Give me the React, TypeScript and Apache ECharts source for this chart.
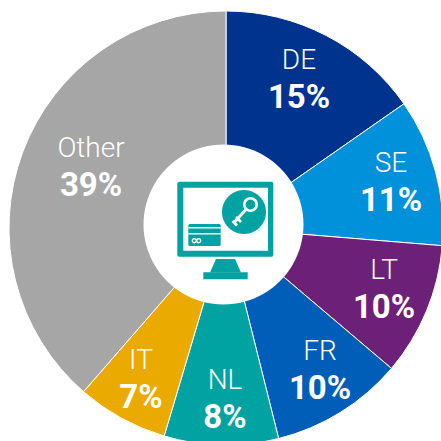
import React, { useEffect, useRef } from "react";
import * as echarts from "echarts";

const categories = ["DE", "SE", "LT", "FR", "NL", "IT", "Other"];
const shares = [15.3, 11.0, 9.9, 9.9, 8.5, 6.8, 38.6];
const shareLabels = ["15%", "11%", "10%", "10%", "8%", "7%", "39%"];
const colors = ["#00338D", "#0091DA", "#6D2077", "#005EB8", "#00A3A1", "#EAAA00", "#A6A6A6"];
const labelCenters = [
  [299, 78], [391, 181], [384, 288], [320, 369], [225, 398], [141, 378], [91, 166],
];

const TEAL = "#00A3A1";

const iconElements: any[] = [
  { type: "circle", z: 10, shape: { cx: 223.5, cy: 224.5, r: 80 }, style: { fill: "#fff" } },
  { type: "rect", z: 11, shape: { x: 177.3, y: 181.7, width: 96, height: 75, r: 2 }, style: { fill: TEAL } },
  { type: "rect", z: 12, shape: { x: 183.3, y: 187.7, width: 84.7, height: 63 }, style: { fill: "#fff" } },
  { type: "polygon", z: 11, shape: { points: [[216, 259], [235, 259], [241, 272.5], [210, 272.5]] }, style: { fill: TEAL } },
  { type: "rect", z: 11, shape: { x: 203.3, y: 272.3, width: 44.4, height: 7 }, style: { fill: TEAL } },
  { type: "circle", z: 13, shape: { cx: 244, cy: 212, r: 22 }, style: { fill: TEAL } },
  { type: "circle", z: 14, shape: { cx: 250.5, cy: 204.5, r: 6.2 }, style: { fill: "none", stroke: "#fff", lineWidth: 2.6 } },
  { type: "line", z: 14, shape: { x1: 246, y1: 209.5, x2: 234, y2: 222.5 }, style: { stroke: "#fff", lineWidth: 3 } },
  { type: "line", z: 14, shape: { x1: 236, y1: 217, x2: 241, y2: 222 }, style: { stroke: "#fff", lineWidth: 2.6 } },
  { type: "line", z: 14, shape: { x1: 232.5, y1: 221, x2: 237, y2: 225.5 }, style: { stroke: "#fff", lineWidth: 2.6 } },
  { type: "rect", z: 13, shape: { x: 188.3, y: 224, width: 32.4, height: 22, r: 1.5 }, style: { fill: TEAL } },
  { type: "rect", z: 14, shape: { x: 188.3, y: 227, width: 32.4, height: 1.6 }, style: { fill: "#fff" } },
  { type: "rect", z: 14, shape: { x: 188.3, y: 233, width: 32.4, height: 1.6 }, style: { fill: "#fff" } },
  { type: "circle", z: 14, shape: { cx: 194.3, cy: 240.7, r: 2 }, style: { fill: "none", stroke: "#fff", lineWidth: 1.4 } },
  { type: "circle", z: 14, shape: { cx: 198.7, cy: 240.7, r: 2 }, style: { fill: "none", stroke: "#fff", lineWidth: 1.4 } },
];

export default function App() {
  const ref = useRef<HTMLDivElement>(null);
  useEffect(() => {
    const chart = echarts.init(ref.current!, undefined, { renderer: "svg" });
    chart.setOption({
      animation: false,
      backgroundColor: "#fff",
      series: [
        {
          type: "pie",
          center: [226, 228],
          radius: [60, 217],
          startAngle: 90,
          clockwise: true,
          silent: true,
          avoidLabelOverlap: false,
          itemStyle: { borderColor: "#fff", borderWidth: 1 },
          label: {
            show: true,
            position: "inside",
            formatter: (p: any) => `{n|${p.name}}\n{v|${shareLabels[p.dataIndex]}}`,
            rich: {
              n: { fontFamily: "Roboto", fontWeight: 300, fontSize: 28, lineHeight: 36, color: "#fff", align: "center" },
              v: { fontFamily: "Roboto", fontWeight: 700, fontSize: 33, lineHeight: 38, color: "#fff", align: "center" },
            },
          },
          labelLine: { show: false },
          labelLayout: (p: any) => ({
            x: labelCenters[p.dataIndex][0],
            y: labelCenters[p.dataIndex][1],
            align: "center",
            verticalAlign: "middle",
          }),
          data: categories.map((name, i) => ({ name, value: shares[i], itemStyle: { color: colors[i] } })),
        },
      ],
      graphic: { elements: iconElements },
    });
    return () => chart.dispose();
  }, []);
  return <div ref={ref} style={{ position: "fixed", left: 0, top: 0, width: 441, height: 441 }} />;
}
